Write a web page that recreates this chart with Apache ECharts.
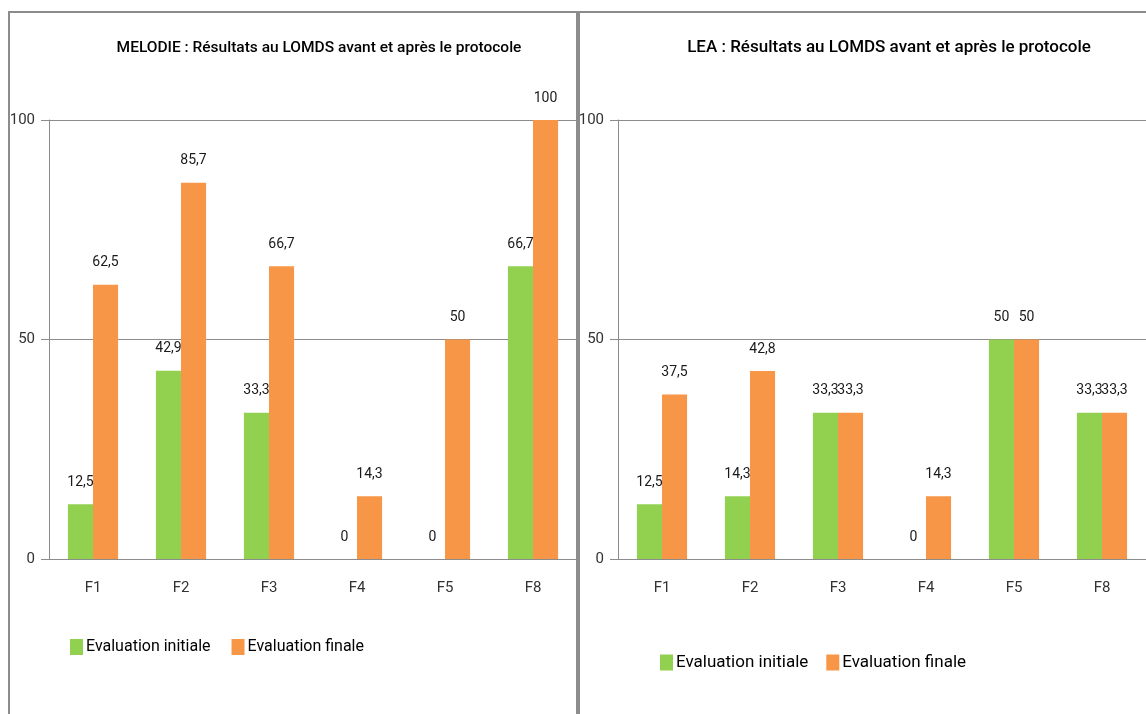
<!DOCTYPE html>
<html>
<head>
<meta charset="utf-8">
<script src="https://cdn.jsdelivr.net/npm/echarts@6/dist/echarts.min.js"></script>
<style>
  html, body { margin: 0; padding: 0; background: #fff; }
  #main { width: 1146px; height: 714px; }
</style>
</head>
<body>
<div id="main"></div>
<script>
/* donnees */
var categories = ['F1', 'F2', 'F3', 'F4', 'F5', 'F8'];
var melodieInitiale = [12.5, 42.9, 33.3, 0, 0, 66.7];
var melodieFinale = [62.5, 85.7, 66.7, 14.3, 50, 100];
var leaInitiale = [12.5, 14.3, 33.3, 0, 50, 33.3];
var leaFinale = [37.5, 42.8, 33.3, 14.3, 50, 33.3];
var yTicks = [0, 50, 100];

var FONT = 'Roboto, "Liberation Sans", sans-serif';
var GREEN = '#92D050';
var ORANGE = '#F79646';
var AXIS = '#8c8c8c';

function fmt(p) {
    return String(p.value).replace('.', ',');
}

function barSerie(name, data, color, idx) {
    return {
        name: name,
        type: 'bar',
        xAxisIndex: idx,
        yAxisIndex: idx,
        data: data,
        barGap: '0%',
        barCategoryGap: '43%',
        itemStyle: { color: color },
        label: {
            show: true,
            position: 'top',
            distance: 15,
            formatter: fmt,
            fontFamily: FONT,
            fontSize: 14,
            color: '#1a1a1a'
        }
    };
}

function xAxe(idx) {
    return {
        type: 'category',
        gridIndex: idx,
        data: categories,
        axisLine: { lineStyle: { color: AXIS } },
        axisTick: { length: 8, lineStyle: { color: AXIS } },
        axisLabel: { margin: 22, fontFamily: FONT, fontSize: 15, color: '#333' }
    };
}

function yAxe(idx) {
    return {
        type: 'value',
        gridIndex: idx,
        min: yTicks[0],
        max: yTicks[yTicks.length - 1],
        interval: 50,
        axisLine: { show: true, lineStyle: { color: AXIS } },
        axisTick: { show: true, length: 8, lineStyle: { color: AXIS } },
        splitLine: { lineStyle: { color: AXIS } },
        axisLabel: { margin: 14, fontFamily: FONT, fontSize: 15, color: '#333' }
    };
}

var chart = echarts.init(document.getElementById('main'));
chart.setOption({
    animation: false,
    title: [
        { text: 'MELODIE : Résultats au LOMDS avant et après le protocole', left: 314, top: 35, textAlign: 'center',
          textStyle: { fontFamily: FONT, fontSize: 15.5, fontWeight: 500, color: '#000' } },
        { text: 'LEA : Résultats au LOMDS avant et après le protocole', left: 884, top: 34, textAlign: 'center',
          textStyle: { fontFamily: FONT, fontSize: 17, fontWeight: 500, color: '#000' } }
    ],
    legend: [
        { data: ['Evaluation initiale', 'Evaluation finale'], left: 70, top: 639, padding: 0, itemWidth: 13, itemHeight: 16,
          itemGap: 21, icon: 'rect', selectedMode: false,
          textStyle: { fontFamily: FONT, fontSize: 16, color: '#000', padding: [0, 0, 0, -2] } },
        { data: ['Evaluation initiale', 'Evaluation finale'], left: 660, top: 654, padding: 0, itemWidth: 13, itemHeight: 16,
          itemGap: 18, icon: 'rect', selectedMode: false,
          textStyle: { fontFamily: FONT, fontSize: 17, color: '#000', padding: [0, 0, 0, -2] } }
    ],
    grid: [
        { left: 49, top: 120, width: 528, height: 439 },
        { left: 618, top: 120, width: 540, height: 439 }
    ],
    xAxis: [xAxe(0), xAxe(1)],
    yAxis: [yAxe(0), yAxe(1)],
    series: [
        barSerie('Evaluation initiale', melodieInitiale, GREEN, 0),
        barSerie('Evaluation finale', melodieFinale, ORANGE, 0),
        barSerie('Evaluation initiale', leaInitiale, GREEN, 1),
        barSerie('Evaluation finale', leaFinale, ORANGE, 1)
    ],
    graphic: [
        { type: 'polyline', shape: { points: [[9, 714], [9, 12], [577, 12], [577, 714]] },
          style: { stroke: '#8c8c8c', lineWidth: 2, fill: null }, silent: true },
        { type: 'polyline', shape: { points: [[579, 714], [579, 12], [1146, 12]] },
          style: { stroke: '#8c8c8c', lineWidth: 2, fill: null }, silent: true }
    ]
});
</script>
</body>
</html>
